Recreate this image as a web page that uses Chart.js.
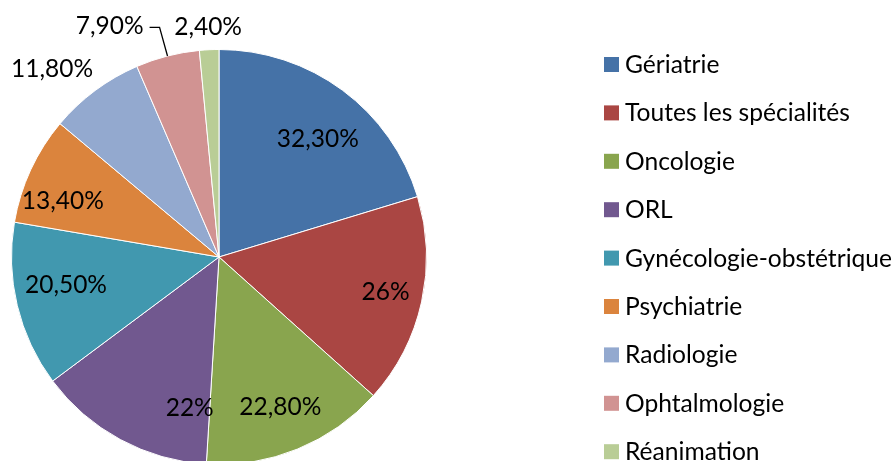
<!DOCTYPE html>
<html>
<head>
<meta charset="utf-8">
<script src="https://cdn.jsdelivr.net/npm/chart.js@4.4.0/dist/chart.umd.min.js"></script>
<style>
  html, body { margin: 0; padding: 0; background: #fff; overflow: hidden; }
  #wrap { position: relative; width: 896px; height: 461px; overflow: hidden; }
  #wrap canvas { position: absolute; left: 0; top: 0; }
</style>
</head>
<body>
<div id="wrap"><canvas id="pie" width="896" height="470"></canvas></div>
<script>
// Données du graphique
const categories = [
    'Gériatrie', 'Toutes les spécialités', 'Oncologie', 'ORL',
    'Gynécologie-obstétrique', 'Psychiatrie', 'Radiologie',
    'Ophtalmologie', 'Réanimation'
];
const values = [32.3, 26, 22.8, 22, 20.5, 13.4, 11.8, 7.9, 2.4];

const colors = [
    '#4572A7', '#AA4643', '#89A54E', '#71588F', '#4198AF',
    '#DB843D', '#93A9CF', '#D19392', '#B9CD96'
];

// Placement des étiquettes : rayon relatif et décalage d'angle (degrés)
const labelRadius = [0.74, 0.82, 0.78, 0.74, 0.75, 0.80, 1.21, 1.23, 1.11];
const labelShift = [3.5, -0.6, 0, -17.4, 3, -5, -5, -11, 0];
const labelLeader = [false, false, false, false, false, false, false, true, false];

const FONT = 'Lato, "Open Sans", sans-serif';

function formatPct(v) {
    return Number.isInteger(v) ? v + '%' : v.toFixed(2).replace('.', ',') + '%';
}

// Étiquettes de valeur
const valueLabelsPlugin = {
    id: 'valueLabels',
    afterDatasetsDraw(chart) {
        const ctx = chart.ctx;
        const arcs = chart.getDatasetMeta(0).data;
        ctx.save();
        ctx.font = '24.5px ' + FONT;
        ctx.fillStyle = '#000';
        ctx.textAlign = 'center';
        ctx.textBaseline = 'middle';
        arcs.forEach((arc, i) => {
            const p = arc.getProps(['x', 'y', 'startAngle', 'endAngle', 'outerRadius'], true);
            const mid = (p.startAngle + p.endAngle) / 2;
            const a = mid + labelShift[i] * Math.PI / 180;
            const r = p.outerRadius * labelRadius[i];
            const lx = p.x + Math.cos(a) * r;
            const ly = p.y + Math.sin(a) * r;
            const text = formatPct(values[i]);
            ctx.fillText(text, lx, ly);
            if (labelLeader[i]) {
                const w = ctx.measureText(text).width;
                const right = lx + w / 2;
                ctx.beginPath();
                ctx.strokeStyle = '#000';
                ctx.lineWidth = 1.3;
                ctx.moveTo(p.x + Math.cos(mid) * p.outerRadius, p.y + Math.sin(mid) * p.outerRadius);
                ctx.lineTo(right + 16, ly + 1);
                ctx.lineTo(right + 6, ly + 1);
                ctx.stroke();
            }
        });
        ctx.restore();
    }
};

// Légende dessinée à droite
const sideLegendPlugin = {
    id: 'sideLegend',
    afterDraw(chart) {
        const ctx = chart.ctx;
        ctx.save();
        ctx.font = '24.6px ' + FONT;
        ctx.textAlign = 'left';
        ctx.textBaseline = 'middle';
        categories.forEach((name, i) => {
            const top = 57 + i * 48.4;
            ctx.fillStyle = colors[i];
            ctx.fillRect(604, top, 15, 15);
            ctx.fillStyle = '#000';
            ctx.fillText(name, 625, top + 8);
        });
        ctx.restore();
    }
};

new Chart(document.getElementById('pie'), {
    type: 'pie',
    data: {
        labels: categories,
        datasets: [{
            data: values,
            backgroundColor: colors,
            borderColor: '#ffffff',
            borderWidth: 1
        }]
    },
    options: {
        responsive: false,
        animation: false,
        devicePixelRatio: 1,
        layout: {
            padding: { left: 11, top: 49, right: 469, bottom: 5 }
        },
        plugins: {
            legend: { display: false },
            tooltip: { enabled: false }
        }
    },
    plugins: [valueLabelsPlugin, sideLegendPlugin]
});
</script>
</body>
</html>
